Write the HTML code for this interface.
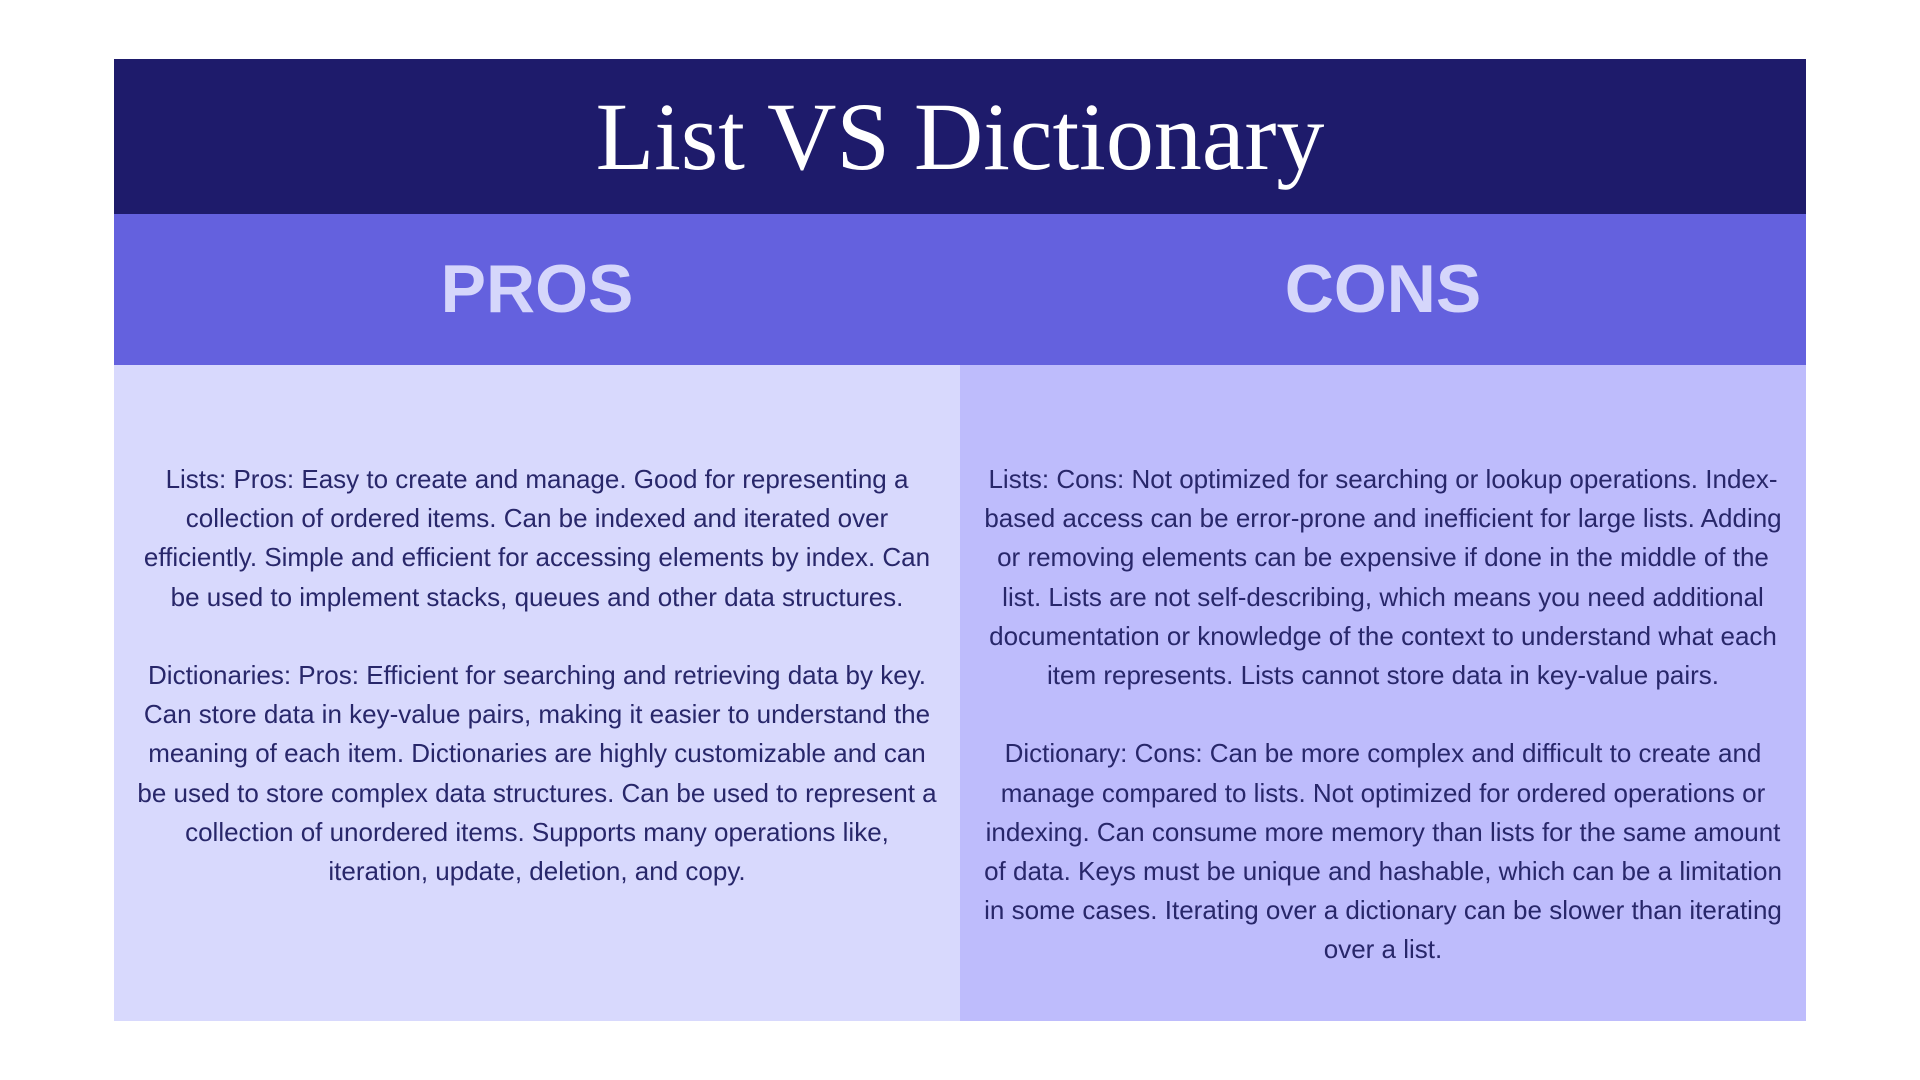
<!DOCTYPE html>
<html><head><meta charset="utf-8"><style>
html,body{margin:0;padding:0;background:#fff;width:1920px;height:1080px;overflow:hidden}
.panel{position:absolute;left:114px;top:59px;width:1692px;height:962px}
.title{position:absolute;left:0;top:0;width:1692px;height:155px;background:#1e1b6b;color:#fff;font-family:"Liberation Serif",serif;font-size:96px;text-align:center;line-height:155px}
.heads{position:absolute;left:0;top:155px;width:1692px;height:151px;background:#6461de}
.h{position:absolute;top:0;width:846px;height:151px;line-height:151px;text-align:center;color:#d5d6fb;font-family:"Liberation Sans",sans-serif;font-weight:bold;font-size:68px}
.col{position:absolute;top:306px;width:846px;height:656px}
.txt{position:absolute;top:95px;left:0;width:846px;text-align:center;font-family:"Liberation Sans",sans-serif;font-size:26px;line-height:39.2px;color:#28276a;white-space:nowrap}
</style></head><body>
<div class="panel">
<div class="title">List VS Dictionary</div>
<div class="heads">
<div class="h" style="left:0">PROS</div>
<div class="h" style="left:846px">CONS</div>
</div>
<div class="col" style="left:0;background:#d8d9fd">
<div class="txt">Lists: Pros: Easy to create and manage. Good for representing a<br>collection of ordered items. Can be indexed and iterated over<br>efficiently. Simple and efficient for accessing elements by index. Can<br>be used to implement stacks, queues and other data structures.<br><br>Dictionaries: Pros: Efficient for searching and retrieving data by key.<br>Can store data in key-value pairs, making it easier to understand the<br>meaning of each item. Dictionaries are highly customizable and can<br>be used to store complex data structures. Can be used to represent a<br>collection of unordered items. Supports many operations like,<br>iteration, update, deletion, and copy.</div>
</div>
<div class="col" style="left:846px;background:#bebcfc">
<div class="txt">Lists: Cons: Not optimized for searching or lookup operations. Index-<br>based access can be error-prone and inefficient for large lists. Adding<br>or removing elements can be expensive if done in the middle of the<br>list. Lists are not self-describing, which means you need additional<br>documentation or knowledge of the context to understand what each<br>item represents. Lists cannot store data in key-value pairs.<br><br>Dictionary: Cons: Can be more complex and difficult to create and<br>manage compared to lists. Not optimized for ordered operations or<br>indexing. Can consume more memory than lists for the same amount<br>of data. Keys must be unique and hashable, which can be a limitation<br>in some cases. Iterating over a dictionary can be slower than iterating<br>over a list.</div>
</div>
</div>
</body></html>
